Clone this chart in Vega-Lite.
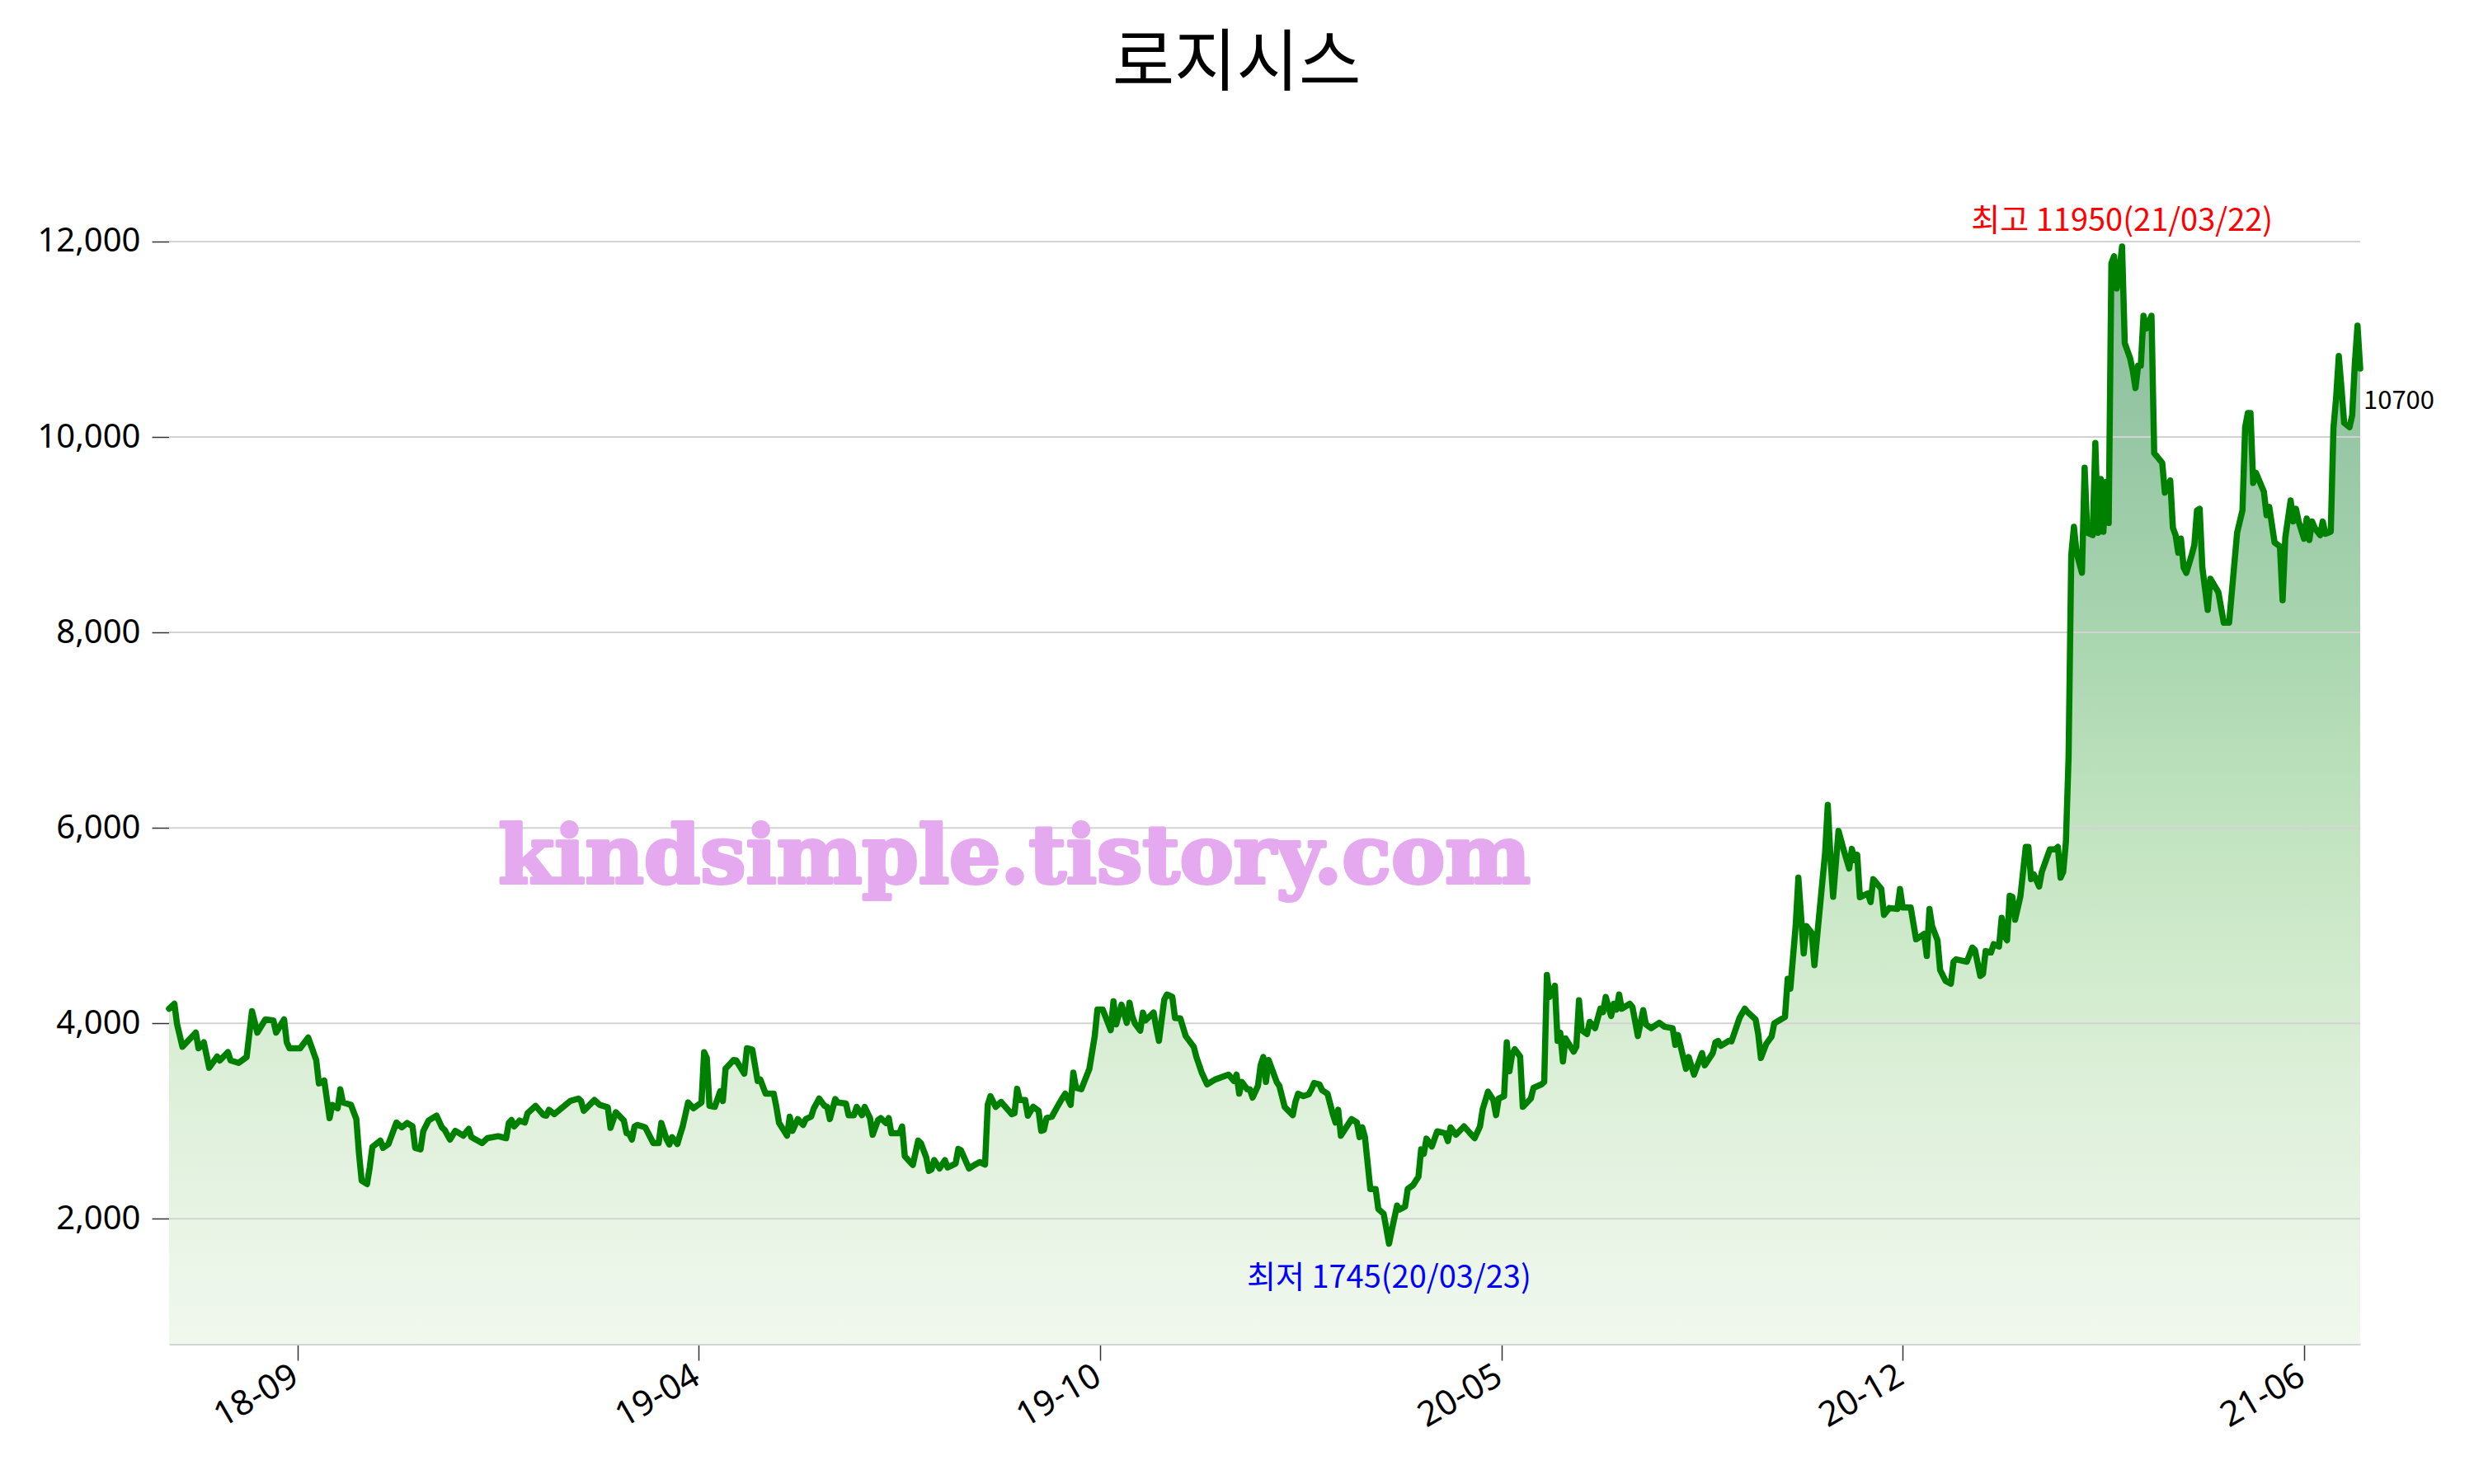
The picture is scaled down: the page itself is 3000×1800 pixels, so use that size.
{
"$schema": "https://vega.github.io/schema/vega-lite/v6.json",
"width": 2657,
"height": 1420,
"autosize": {"type": "none"},
"padding": {"left": 205, "top": 210, "right": 138, "bottom": 170},
"background": "white",
"config": {"view": {"stroke": null}, "font": "Noto Sans CJK KR"},
"title": {"text": "로지시스", "fontSize": 82, "font": "Noto Sans CJK KR", "fontWeight": "normal", "color": "black", "anchor": "middle", "frame": "group", "offset": 25, "baseline": "alphabetic", "dx": -34},
"datasets": {
"price": [
{"t":0,"v":4150},{"t":2,"v":4200},{"t":3,"v":3990},{"t":5,"v":3760},{"t":10,"v":3905},{"t":11,"v":3745},{"t":13,"v":3805},{"t":15,"v":3545},{"t":18,"v":3660},{"t":19,"v":3620},
{"t":22,"v":3705},{"t":23,"v":3620},{"t":26,"v":3595},{"t":29,"v":3655},{"t":31,"v":4125},{"t":33,"v":3905},{"t":36,"v":4040},{"t":39,"v":4030},{"t":40,"v":3905},{"t":43,"v":4040},
{"t":44,"v":3805},{"t":45,"v":3745},{"t":49,"v":3745},{"t":52,"v":3855},{"t":55,"v":3625},{"t":56,"v":3385},{"t":58,"v":3415},{"t":60,"v":3030},{"t":61,"v":3165},{"t":63,"v":3130},
{"t":64,"v":3325},{"t":65,"v":3190},{"t":68,"v":3165},{"t":70,"v":3020},{"t":71,"v":2665},{"t":72,"v":2390},{"t":74,"v":2355},{"t":75,"v":2525},{"t":76,"v":2735},{"t":79,"v":2800},
{"t":80,"v":2725},{"t":82,"v":2765},{"t":85,"v":2985},{"t":87,"v":2935},{"t":89,"v":2980},{"t":91,"v":2945},{"t":92,"v":2725},{"t":94,"v":2710},{"t":95,"v":2895},{"t":97,"v":3005},
{"t":100,"v":3055},{"t":102,"v":2935},{"t":103,"v":2910},{"t":105,"v":2810},{"t":107,"v":2900},{"t":110,"v":2850},{"t":112,"v":2920},{"t":113,"v":2835},{"t":117,"v":2775},{"t":119,"v":2825},
{"t":123,"v":2845},{"t":126,"v":2825},{"t":127,"v":2980},{"t":128,"v":3010},{"t":129,"v":2945},{"t":131,"v":3005},{"t":133,"v":2985},{"t":134,"v":3080},{"t":137,"v":3155},{"t":140,"v":3060},
{"t":141,"v":3055},{"t":142,"v":3115},{"t":144,"v":3070},{"t":150,"v":3205},{"t":153,"v":3230},{"t":154,"v":3205},{"t":155,"v":3105},{"t":159,"v":3215},{"t":161,"v":3165},{"t":164,"v":3140},
{"t":165,"v":2930},{"t":167,"v":3090},{"t":170,"v":3005},{"t":171,"v":2875},{"t":172,"v":2870},{"t":173,"v":2810},{"t":174,"v":2945},{"t":175,"v":2960},{"t":177,"v":2945},{"t":178,"v":2935},
{"t":181,"v":2775},{"t":183,"v":2775},{"t":184,"v":2980},{"t":186,"v":2810},{"t":187,"v":2760},{"t":188,"v":2835},{"t":190,"v":2765},{"t":191,"v":2860},{"t":192,"v":2945},{"t":194,"v":3190},
{"t":196,"v":3130},{"t":199,"v":3190},{"t":200,"v":3705},{"t":201,"v":3645},{"t":202,"v":3155},{"t":204,"v":3145},{"t":206,"v":3305},{"t":207,"v":3205},{"t":208,"v":3535},{"t":211,"v":3625},
{"t":212,"v":3620},{"t":215,"v":3485},{"t":216,"v":3745},{"t":218,"v":3730},{"t":220,"v":3410},{"t":221,"v":3425},{"t":223,"v":3280},{"t":226,"v":3280},{"t":227,"v":3145},{"t":228,"v":2980},
{"t":231,"v":2850},{"t":232,"v":3045},{"t":233,"v":2900},{"t":235,"v":3020},{"t":237,"v":2960},{"t":238,"v":3020},{"t":240,"v":3045},{"t":241,"v":3130},{"t":243,"v":3230},{"t":245,"v":3155},
{"t":246,"v":3145},{"t":247,"v":3020},{"t":249,"v":3225},{"t":250,"v":3190},{"t":253,"v":3180},{"t":254,"v":3060},{"t":256,"v":3060},{"t":257,"v":3145},{"t":259,"v":3060},{"t":260,"v":3145},
{"t":262,"v":3030},{"t":263,"v":2860},{"t":265,"v":3010},{"t":266,"v":3030},{"t":268,"v":2980},{"t":269,"v":3030},{"t":270,"v":2875},{"t":273,"v":2875},{"t":274,"v":2945},{"t":275,"v":2640},
{"t":278,"v":2550},{"t":280,"v":2800},{"t":281,"v":2775},{"t":283,"v":2630},{"t":284,"v":2490},{"t":285,"v":2505},{"t":286,"v":2600},{"t":288,"v":2515},{"t":290,"v":2600},{"t":291,"v":2525},
{"t":294,"v":2565},{"t":295,"v":2715},{"t":296,"v":2700},{"t":299,"v":2515},{"t":301,"v":2550},{"t":303,"v":2580},{"t":305,"v":2555},{"t":306,"v":3165},{"t":307,"v":3255},{"t":309,"v":3145},
{"t":311,"v":3195},{"t":315,"v":3070},{"t":316,"v":3080},{"t":317,"v":3330},{"t":318,"v":3215},{"t":320,"v":3215},{"t":321,"v":3055},{"t":323,"v":3145},{"t":325,"v":3105},{"t":326,"v":2900},
{"t":327,"v":2910},{"t":328,"v":3030},{"t":330,"v":3045},{"t":332,"v":3145},{"t":334,"v":3240},{"t":335,"v":3280},{"t":337,"v":3165},{"t":338,"v":3495},{"t":339,"v":3340},{"t":341,"v":3325},
{"t":344,"v":3535},{"t":346,"v":3870},{"t":347,"v":4140},{"t":349,"v":4140},{"t":352,"v":3930},{"t":353,"v":4225},{"t":354,"v":3990},{"t":356,"v":4190},{"t":357,"v":4100},{"t":358,"v":4005},
{"t":359,"v":4210},{"t":360,"v":4075},{"t":361,"v":4000},{"t":363,"v":3925},{"t":364,"v":4110},{"t":365,"v":4030},{"t":368,"v":4110},{"t":369,"v":3955},{"t":370,"v":3820},{"t":372,"v":4245},
{"t":373,"v":4295},{"t":375,"v":4270},{"t":376,"v":4055},{"t":378,"v":4050},{"t":380,"v":3870},{"t":383,"v":3760},{"t":384,"v":3655},{"t":385,"v":3575},{"t":386,"v":3495},{"t":388,"v":3375},
{"t":391,"v":3425},{"t":396,"v":3475},{"t":398,"v":3410},{"t":399,"v":3475},{"t":400,"v":3280},{"t":401,"v":3400},{"t":403,"v":3325},{"t":404,"v":3325},{"t":405,"v":3240},{"t":407,"v":3360},
{"t":408,"v":3570},{"t":409,"v":3655},{"t":410,"v":3400},{"t":411,"v":3625},{"t":414,"v":3400},{"t":415,"v":3360},{"t":417,"v":3145},{"t":420,"v":3060},{"t":421,"v":3195},{"t":422,"v":3280},
{"t":424,"v":3255},{"t":426,"v":3275},{"t":427,"v":3325},{"t":428,"v":3390},{"t":430,"v":3375},{"t":431,"v":3315},{"t":433,"v":3280},{"t":435,"v":3070},{"t":436,"v":2985},{"t":437,"v":3115},
{"t":438,"v":2850},{"t":442,"v":3020},{"t":444,"v":2985},{"t":445,"v":2835},{"t":446,"v":2935},{"t":447,"v":2835},{"t":449,"v":2305},{"t":451,"v":2305},{"t":452,"v":2100},{"t":454,"v":2050},
{"t":456,"v":1745},{"t":457,"v":1880},{"t":459,"v":2135},{"t":460,"v":2095},{"t":462,"v":2125},{"t":463,"v":2305},{"t":465,"v":2345},{"t":467,"v":2430},{"t":468,"v":2710},{"t":469,"v":2665},
{"t":470,"v":2820},{"t":472,"v":2740},{"t":474,"v":2895},{"t":477,"v":2875},{"t":478,"v":2795},{"t":479,"v":2935},{"t":481,"v":2860},{"t":484,"v":2945},{"t":488,"v":2825},{"t":490,"v":2945},
{"t":491,"v":3120},{"t":493,"v":3300},{"t":495,"v":3215},{"t":496,"v":3060},{"t":497,"v":3230},{"t":499,"v":3255},{"t":500,"v":3805},{"t":501,"v":3510},{"t":502,"v":3680},{"t":503,"v":3735},
{"t":505,"v":3660},{"t":506,"v":3145},{"t":509,"v":3230},{"t":510,"v":3340},{"t":513,"v":3375},{"t":514,"v":3400},{"t":515,"v":4495},{"t":516,"v":4270},{"t":518,"v":4385},{"t":519,"v":3820},
{"t":520,"v":3905},{"t":521,"v":3610},{"t":522,"v":3845},{"t":525,"v":3710},{"t":526,"v":3760},{"t":527,"v":4235},{"t":528,"v":3930},{"t":530,"v":3890},{"t":531,"v":4015},{"t":533,"v":3950},
{"t":535,"v":4150},{"t":536,"v":4115},{"t":537,"v":4270},{"t":539,"v":4075},{"t":540,"v":4200},{"t":541,"v":4140},{"t":542,"v":4295},{"t":543,"v":4150},{"t":546,"v":4200},{"t":547,"v":4165},
{"t":549,"v":3870},{"t":551,"v":4135},{"t":552,"v":3990},{"t":554,"v":3950},{"t":557,"v":4005},{"t":559,"v":3965},{"t":562,"v":3950},{"t":563,"v":3780},{"t":564,"v":3880},{"t":567,"v":3535},
{"t":568,"v":3655},{"t":570,"v":3475},{"t":573,"v":3695},{"t":574,"v":3570},{"t":577,"v":3695},{"t":578,"v":3805},{"t":579,"v":3820},{"t":580,"v":3770},{"t":583,"v":3820},{"t":584,"v":3815},
{"t":587,"v":4055},{"t":589,"v":4150},{"t":590,"v":4115},{"t":593,"v":4040},{"t":594,"v":3890},{"t":595,"v":3645},{"t":597,"v":3790},{"t":599,"v":3865},{"t":600,"v":4000},{"t":604,"v":4065},
{"t":605,"v":4455},{"t":606,"v":4355},{"t":608,"v":5000},{"t":609,"v":5490},{"t":611,"v":4715},{"t":612,"v":4995},{"t":614,"v":4925},{"t":615,"v":4595},{"t":619,"v":5745},{"t":620,"v":6235},
{"t":621,"v":5700},{"t":622,"v":5295},{"t":624,"v":5970},{"t":626,"v":5770},{"t":628,"v":5585},{"t":629,"v":5785},{"t":630,"v":5670},{"t":631,"v":5725},{"t":632,"v":5290},{"t":635,"v":5330},
{"t":636,"v":5240},{"t":637,"v":5475},{"t":640,"v":5375},{"t":641,"v":5110},{"t":643,"v":5180},{"t":646,"v":5170},{"t":647,"v":5375},{"t":648,"v":5185},{"t":651,"v":5185},{"t":653,"v":4860},
{"t":656,"v":4915},{"t":657,"v":4690},{"t":658,"v":5170},{"t":659,"v":4995},{"t":661,"v":4850},{"t":662,"v":4545},{"t":664,"v":4435},{"t":666,"v":4405},{"t":667,"v":4630},{"t":668,"v":4655},
{"t":672,"v":4630},{"t":674,"v":4775},{"t":675,"v":4750},{"t":677,"v":4485},{"t":678,"v":4505},{"t":679,"v":4740},{"t":681,"v":4725},{"t":682,"v":4810},{"t":684,"v":4785},{"t":685,"v":5080},
{"t":686,"v":4890},{"t":687,"v":4850},{"t":688,"v":5305},{"t":689,"v":5295},{"t":690,"v":5060},{"t":692,"v":5300},{"t":694,"v":5805},{"t":695,"v":5805},{"t":696,"v":5475},{"t":697,"v":5525},
{"t":699,"v":5400},{"t":700,"v":5550},{"t":703,"v":5780},{"t":705,"v":5780},{"t":706,"v":5805},{"t":707,"v":5490},{"t":708,"v":5550},{"t":709,"v":5855},{"t":710,"v":6725},{"t":711,"v":8790},
{"t":712,"v":9080},{"t":713,"v":8815},{"t":715,"v":8610},{"t":716,"v":9685},{"t":717,"v":9020},{"t":719,"v":8995},{"t":720,"v":9940},{"t":721,"v":9020},{"t":722,"v":9570},{"t":723,"v":9030},
{"t":724,"v":9540},{"t":725,"v":9120},{"t":726,"v":11775},{"t":727,"v":11850},{"t":728,"v":11520},{"t":729,"v":11700},{"t":730,"v":11950},{"t":731,"v":10960},{"t":733,"v":10805},{"t":734,"v":10680},
{"t":735,"v":10500},{"t":736,"v":10730},{"t":737,"v":10730},{"t":738,"v":11240},{"t":739,"v":11110},{"t":741,"v":11240},{"t":742,"v":9835},{"t":745,"v":9735},{"t":746,"v":9430},{"t":748,"v":9555},
{"t":749,"v":9070},{"t":750,"v":8995},{"t":751,"v":8815},{"t":752,"v":8960},{"t":753,"v":8665},{"t":754,"v":8610},{"t":756,"v":8790},{"t":757,"v":8895},{"t":758,"v":9250},{"t":759,"v":9265},
{"t":760,"v":8665},{"t":762,"v":8230},{"t":763,"v":8550},{"t":766,"v":8410},{"t":768,"v":8100},{"t":770,"v":8100},{"t":773,"v":9020},{"t":775,"v":9250},{"t":776,"v":10100},{"t":777,"v":10245},
{"t":778,"v":10245},{"t":779,"v":9530},{"t":780,"v":9635},{"t":783,"v":9440},{"t":784,"v":9200},{"t":785,"v":9285},{"t":787,"v":8920},{"t":789,"v":8880},{"t":790,"v":8330},{"t":791,"v":8970},
{"t":793,"v":9350},{"t":794,"v":9135},{"t":795,"v":9265},{"t":796,"v":9135},{"t":798,"v":8960},{"t":799,"v":9165},{"t":800,"v":8945},{"t":801,"v":9135},{"t":802,"v":9070},{"t":804,"v":8995},
{"t":805,"v":9135},{"t":806,"v":9010},{"t":808,"v":9030},{"t":809,"v":10090},{"t":810,"v":10400},{"t":811,"v":10830},{"t":812,"v":10500},{"t":813,"v":10145},{"t":815,"v":10100},{"t":816,"v":10220},
{"t":817,"v":10755},{"t":818,"v":11140},{"t":819,"v":10700}
],
"grid": [{"v":2000},{"v":4000},{"v":6000},{"v":8000},{"v":10000},{"v":12000}],
"notes": [
{"t":730,"v":11950,"label":"최고 11950(21/03/22)","kind":"max"},
{"t":456,"v":1745,"label":"최저 1745(20/03/23)","kind":"min"},
{"t":819,"v":10700,"label":"10700","kind":"last"}
],
"mark": [{"t":316,"v":5432,"label":"kindsimple.tistory.com"}]
},
"layer": [
{
"data": {"name": "price"},
"mark": {"type": "area", "clip": true, "fill": {"gradient": "linear", "x1": 0, "y1": 0, "x2": 0, "y2": 1, "stops": [
{"offset": 0, "color": "#8cbf9b"}, {"offset": 0.18, "color": "#98c8a5"}, {"offset": 0.35, "color": "#abd7b1"}, {"offset": 0.53, "color": "#c6e6c3"}, {"offset": 0.71, "color": "#dcefd8"}, {"offset": 0.89, "color": "#edf6ea"}, {"offset": 1, "color": "#f5faf3"}]}},
"encoding": {
"x": {"field": "t", "type": "quantitative", "title": null, "scale": {"domain": [0, 819], "nice": false, "zero": false},
"axis": {"values": [48, 198, 348, 498, 648, 798], "labelExpr": "datum.value==48?'18-09':datum.value==198?'19-04':datum.value==348?'19-10':datum.value==498?'20-05':datum.value==648?'20-12':'21-06'", "labelAngle": -30, "labelAlign": "right", "labelBaseline": "top", "labelFontSize": 42, "labelFont": "Noto Sans", "labelColor": "black", "tickColor": "#333333", "tickSize": 20, "tickWidth": 1.5, "domainColor": "#d3d3d3", "domainWidth": 3, "grid": false, "title": null, "labelPadding": -2, "labelOffset": -13}},
"y": {"field": "v", "type": "quantitative", "title": null, "scale": {"domain": [720, 12700], "nice": false, "zero": false},
"axis": {"values": [2000, 4000, 6000, 8000, 10000, 12000], "format": ",d", "labelFontSize": 40, "labelFont": "Noto Sans", "labelColor": "black", "tickColor": "#333333", "tickSize": 21, "tickWidth": 1.5, "domain": false, "grid": false, "title": null, "labelPadding": 14}}
}
},
{
"data": {"name": "grid"},
"mark": {"type": "rule", "color": "#d3d3d3", "strokeWidth": 2},
"encoding": {"y": {"field": "v", "type": "quantitative", "title": null}}
},
{
"data": {"name": "price"},
"mark": {"type": "line", "color": "#008000", "strokeWidth": 7.5, "strokeJoin": "round", "strokeCap": "round"},
"encoding": {
"x": {"field": "t", "type": "quantitative", "title": null},
"y": {"field": "v", "type": "quantitative", "title": null}
}
},
{
"data": {"name": "notes"},
"transform": [{"filter": "datum.kind == 'max'"}],
"mark": {"type": "text", "color": "#ff0000", "fontSize": 38, "font": "Noto Sans CJK KR", "align": "center", "baseline": "alphabetic", "dy": -19},
"encoding": {"x": {"field": "t", "type": "quantitative", "title": null}, "y": {"field": "v", "type": "quantitative", "title": null}, "text": {"field": "label"}}
},
{
"data": {"name": "notes"},
"transform": [{"filter": "datum.kind == 'min'"}],
"mark": {"type": "text", "color": "#0000ff", "fontSize": 38, "font": "Noto Sans CJK KR", "align": "center", "baseline": "alphabetic", "dy": 53},
"encoding": {"x": {"field": "t", "type": "quantitative", "title": null}, "y": {"field": "v", "type": "quantitative", "title": null}, "text": {"field": "label"}}
},
{
"data": {"name": "notes"},
"transform": [{"filter": "datum.kind == 'last'"}],
"mark": {"type": "text", "color": "black", "fontSize": 31, "font": "Noto Sans CJK KR", "align": "left", "baseline": "middle", "dx": 4, "dy": 40},
"encoding": {"x": {"field": "t", "type": "quantitative", "title": null}, "y": {"field": "v", "type": "quantitative", "title": null}, "text": {"field": "label"}}
},
{
"data": {"name": "mark"},
"mark": {"type": "text", "color": "#e5a9ef", "stroke": "#e5a9ef", "strokeWidth": 4, "strokeJoin": "round", "fontSize": 98, "font": "DejaVu Serif", "fontWeight": "bold", "align": "center", "baseline": "alphabetic"},
"encoding": {"x": {"field": "t", "type": "quantitative", "title": null}, "y": {"field": "v", "type": "quantitative", "title": null}, "text": {"field": "label"}}
}
]
}
